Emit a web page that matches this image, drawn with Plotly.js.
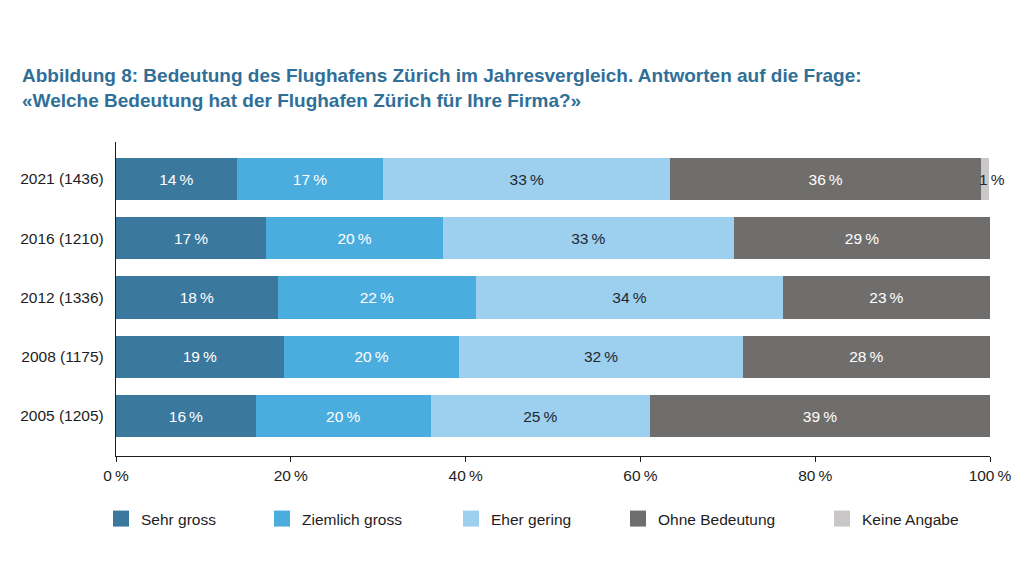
<!DOCTYPE html>
<html><head><meta charset="utf-8">
<script src="https://cdn.plot.ly/plotly-3.0.1.min.js"></script>
<style>html,body{margin:0;padding:0;background:#fff}#chart{width:1024px;height:576px}</style>
</head><body><div id="chart"></div>
<script>
// Categories (top to bottom)
const years = ['2021 (1436)', '2016 (1210)', '2012 (1336)', '2008 (1175)', '2005 (1205)'];
const seriesNames = ['Sehr gross', 'Ziemlich gross', 'Eher gering', 'Ohne Bedeutung', 'Keine Angabe'];
// Bar lengths (%)
const sehrGross     = [13.8, 17.2, 18.5, 19.2, 16.0];
const ziemlichGross = [16.8, 20.2, 22.7, 20.1, 20.0];
const eherGering    = [32.8, 33.3, 35.1, 32.4, 25.1];
const ohneBedeutung = [35.6, 29.3, 23.7, 28.3, 38.9];
const keineAngabe   = [0.9, null, null, null, null];
// Printed labels (%)
const sehrGrossLbl     = [14, 17, 18, 19, 16];
const ziemlichGrossLbl = [17, 20, 22, 20, 20];
const eherGeringLbl    = [33, 33, 34, 32, 25];
const ohneBedeutungLbl = [36, 29, 23, 28, 39];
const keineAngabeLbl   = [1, null, null, null, null];
// Axis ticks
const xTickVals = [0, 20, 40, 60, 80, 100];
const xTickText = ['0\u2009%', '20\u2009%', '40\u2009%', '60\u2009%', '80\u2009%', '100\u2009%'];

const colors = ['#3a789e', '#4badde', '#9dcfee', '#706e6d', '#c9c7c7'];
const textColors = ['#ffffff', '#ffffff', '#1d2833', '#ffffff', '#1d2833'];
const values = [sehrGross, ziemlichGross, eherGering, ohneBedeutung, keineAngabe];
const labels = [sehrGrossLbl, ziemlichGrossLbl, eherGeringLbl, ohneBedeutungLbl, keineAngabeLbl];
const FONT = 'Liberation Sans, Arial, sans-serif';
const FS = 15.5;
const fmt = v => (v === null ? '' : v + '\u2009%');

const traces = [];
values.forEach((vals, i) => {
  traces.push({
    type: 'bar', orientation: 'h', y: years, x: vals,
    name: seriesNames[i], showlegend: false,
    marker: {color: colors[i], line: {width: 0}},
    text: i < 4 ? labels[i].map(fmt) : null,
    texttemplate: i < 4 ? '%{text}' : '',
    textposition: i < 4 ? 'inside' : 'none',
    insidetextanchor: 'middle',
    constraintext: 'none',
    textfont: {family: FONT, size: FS, color: textColors[i]},
    hoverinfo: 'x+y+name'
  });
});
// legend entries (one legend per entry)
seriesNames.forEach((n, i) => {
  traces.push({
    type: 'scatter', mode: 'markers', x: [null], y: [null], name: n,
    marker: {symbol: 'square', size: 16, color: colors[i]},
    legend: i === 0 ? 'legend' : 'legend' + (i + 1), hoverinfo: 'skip'
  });
});

// "1 %" label beside the Keine Angabe segment
const total2021 = sehrGross[0] + ziemlichGross[0] + eherGering[0] + ohneBedeutung[0] + keineAngabe[0];
const annotations = [{
  x: total2021, y: years[0], xref: 'x', yref: 'y', text: fmt(keineAngabeLbl[0]),
  showarrow: false, xanchor: 'center', xshift: 3,
  font: {family: FONT, size: FS, color: '#1d2833'}
}];

const legendPx = [101, 262, 451, 618, 822];
const layout = {
  width: 1024, height: 576,
  paper_bgcolor: '#ffffff', plot_bgcolor: '#ffffff',
  margin: {l: 116, r: 34, t: 142, b: 120, pad: 0},
  font: {family: FONT, size: FS, color: '#1d1d1d'},
  title: {
    text: 'Abbildung 8: Bedeutung des Flughafens Zürich im Jahresvergleich. Antworten auf die Frage:<br>«Welche Bedeutung hat der Flughafen Zürich für Ihre Firma?»',
    font: {family: FONT, size: 19, color: '#2f6f98', weight: 'bold'},
    xref: 'container', yref: 'container', x: 22 / 1024, xanchor: 'left',
    y: 1 - 82 / 576, yanchor: 'top'
  },
  barmode: 'stack', bargap: 0.29,
  xaxis: {
    range: [0, 100], tickvals: xTickVals, ticktext: xTickText,
    ticks: 'outside', ticklen: 5, tickwidth: 1.2, tickcolor: '#1d1d1d',
    showline: true, linecolor: '#1d1d1d', linewidth: 1.3,
    showgrid: false, zeroline: false, fixedrange: true,
    ticklabelstandoff: 0,
    tickfont: {family: FONT, size: FS, color: '#1d1d1d'}
  },
  xaxis2: {
    overlaying: 'x', anchor: 'y', side: 'bottom', range: [0, 100],
    tickvals: xTickVals, showticklabels: false,
    ticks: 'inside', ticklen: 5, tickwidth: 1.2, tickcolor: '#1d1d1d',
    showline: false, showgrid: false, zeroline: false, fixedrange: true
  },
  yaxis: {
    type: 'category', range: [4.675, -0.625],
    showline: true, linecolor: '#1d1d1d', linewidth: 1.3,
    ticks: '', showgrid: false, zeroline: false, fixedrange: true,
    ticklabelstandoff: 8,
    tickfont: {family: FONT, size: FS, color: '#1d1d1d'}
  },
  annotations: annotations,
  hovermode: 'closest'
};
legendPx.forEach((px, i) => {
  layout[i === 0 ? 'legend' : 'legend' + (i + 1)] = {
    xref: 'container', yref: 'container', x: px / 1024, y: 1 - 519 / 576,
    xanchor: 'left', yanchor: 'middle', orientation: 'h',
    bgcolor: 'rgba(0,0,0,0)', borderwidth: 0,
    font: {family: FONT, size: FS, color: '#1d1d1d'}
  };
});

Plotly.newPlot('chart', traces, layout, {displayModeBar: false, staticPlot: false});
</script>
</body></html>
